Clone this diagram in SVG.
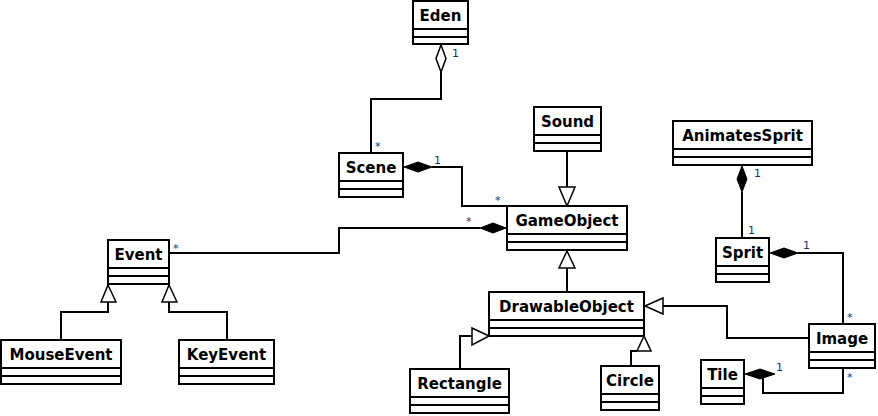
<svg xmlns="http://www.w3.org/2000/svg" width="878" height="416" viewBox="0 0 878 416">
<style>
.box{fill:#fff;stroke:#000;stroke-width:2}
.sep{stroke:#000;stroke-width:2}
.name{font-family:"DejaVu Sans",sans-serif;font-weight:bold;font-size:15px;fill:#000;text-anchor:middle}
.ln{fill:none;stroke:#000;stroke-width:2}
.hol{fill:#fff;stroke:#000;stroke-width:1.5}
.sol{fill:#000;stroke:#000;stroke-width:1}
.lbl{font-family:"DejaVu Sans",sans-serif;font-size:11px;fill:#1e2f66}
</style>
<rect width="878" height="416" fill="#fff"/>
<g id="connectors">
  <!-- Eden - Scene aggregation -->
  <path class="ln" d="M441 72 V99 H371 V153"/>
  <polygon class="hol" points="441,45 446,58.5 441,72 436,58.5"/>
  <!-- Scene - GameObject composition -->
  <path class="ln" d="M432 167 H462 V206 H507"/>
  <polygon class="sol" points="404,167 418,162 432,167 418,172"/>
  <!-- Sound -> GameObject -->
  <path class="ln" d="M567 151 V187"/>
  <polygon class="hol" points="567,206 559,187 575,187"/>
  <!-- GameObject - Event composition -->
  <path class="ln" d="M480 228 H339 V253 H169"/>
  <polygon class="sol" points="506,228 493,223 480,228 493,233"/>
  <!-- DrawableObject -> GameObject -->
  <path class="ln" d="M567 292 V268"/>
  <polygon class="hol" points="567,251 559,268 575,268"/>
  <!-- MouseEvent -> Event -->
  <path class="ln" d="M108 302 V312 H61 V340"/>
  <polygon class="hol" points="108,285 101,302 116,302"/>
  <!-- KeyEvent -> Event -->
  <path class="ln" d="M169 302 V312 H227 V340"/>
  <polygon class="hol" points="169,285 162,302 177,302"/>
  <!-- Rectangle -> DrawableObject -->
  <path class="ln" d="M460 369 V336 H472"/>
  <polygon class="hol" points="489,336 472,328 472,345"/>
  <!-- Circle -> DrawableObject -->
  <path class="ln" d="M631 366 V351 H637"/>
  <polygon class="hol" points="644,336 637,351 651,351"/>
  <!-- Image -> DrawableObject -->
  <path class="ln" d="M809 338 H727 V306 H663"/>
  <polygon class="hol" points="645,306 663,298 663,314"/>
  <!-- AnimatesSprit - Sprit composition -->
  <path class="ln" d="M742 192 V238"/>
  <polygon class="sol" points="742,166 747,179 742,192 737,179"/>
  <!-- Sprit - Image composition -->
  <path class="ln" d="M798 253 H843 V324"/>
  <polygon class="sol" points="770,253 784,248 798,253 784,258"/>
  <!-- Tile - Image composition -->
  <path class="ln" d="M763 374 V393 H843 V368"/>
  <polygon class="sol" points="745,374 760,369 775,374 760,379"/>
  <!-- labels -->
  <text class="lbl" x="452" y="57">1</text>
  <text class="lbl" x="375" y="150">*</text>
  <text class="lbl" x="434" y="164">1</text>
  <text class="lbl" x="495" y="204">*</text>
  <text class="lbl" x="466" y="225">*</text>
  <text class="lbl" x="173" y="252">*</text>
  <text class="lbl" x="754" y="177">1</text>
  <text class="lbl" x="748" y="234">1</text>
  <text class="lbl" x="803" y="249">1</text>
  <text class="lbl" x="847" y="321">*</text>
  <text class="lbl" x="776" y="371">1</text>
  <text class="lbl" x="847" y="381">*</text>
</g>
<g id="Eden">
  <rect class="box" x="413" y="1" width="55" height="43"/>
  <line class="sep" x1="413" y1="29" x2="468" y2="29"/>
  <line class="sep" x1="413" y1="37" x2="468" y2="37"/>
  <text class="name" x="440.5" y="21">Eden</text>
</g>
<g id="Scene">
  <rect class="box" x="339" y="153" width="64" height="44"/>
  <line class="sep" x1="339" y1="181" x2="403" y2="181"/>
  <line class="sep" x1="339" y1="189" x2="403" y2="189"/>
  <text class="name" x="371" y="173">Scene</text>
</g>
<g id="Sound">
  <rect class="box" x="534" y="107" width="67" height="44"/>
  <line class="sep" x1="534" y1="135" x2="601" y2="135"/>
  <line class="sep" x1="534" y1="143" x2="601" y2="143"/>
  <text class="name" x="567.5" y="127">Sound</text>
</g>
<g id="GameObject">
  <rect class="box" x="507" y="206" width="120" height="44"/>
  <line class="sep" x1="507" y1="234" x2="627" y2="234"/>
  <line class="sep" x1="507" y1="242" x2="627" y2="242"/>
  <text class="name" x="567" y="226">GameObject</text>
</g>
<g id="AnimatesSprit">
  <rect class="box" x="673" y="121" width="139" height="44"/>
  <line class="sep" x1="673" y1="149" x2="812" y2="149"/>
  <line class="sep" x1="673" y1="157" x2="812" y2="157"/>
  <text class="name" x="742.5" y="141">AnimatesSprit</text>
</g>
<g id="Sprit">
  <rect class="box" x="716" y="238" width="53" height="44"/>
  <line class="sep" x1="716" y1="266" x2="769" y2="266"/>
  <line class="sep" x1="716" y1="274" x2="769" y2="274"/>
  <text class="name" x="742.5" y="258">Sprit</text>
</g>
<g id="Event">
  <rect class="box" x="108" y="240" width="61" height="44"/>
  <line class="sep" x1="108" y1="268" x2="169" y2="268"/>
  <line class="sep" x1="108" y1="276" x2="169" y2="276"/>
  <text class="name" x="138.5" y="260">Event</text>
</g>
<g id="MouseEvent">
  <rect class="box" x="1" y="340" width="120" height="44"/>
  <line class="sep" x1="1" y1="368" x2="121" y2="368"/>
  <line class="sep" x1="1" y1="376" x2="121" y2="376"/>
  <text class="name" x="61" y="360">MouseEvent</text>
</g>
<g id="KeyEvent">
  <rect class="box" x="179" y="340" width="95" height="44"/>
  <line class="sep" x1="179" y1="368" x2="274" y2="368"/>
  <line class="sep" x1="179" y1="376" x2="274" y2="376"/>
  <text class="name" x="226.5" y="360">KeyEvent</text>
</g>
<g id="DrawableObject">
  <rect class="box" x="489" y="292" width="155" height="44"/>
  <line class="sep" x1="489" y1="320" x2="644" y2="320"/>
  <line class="sep" x1="489" y1="328" x2="644" y2="328"/>
  <text class="name" x="566.5" y="312">DrawableObject</text>
</g>
<g id="Rectangle">
  <rect class="box" x="410" y="369" width="99" height="44"/>
  <line class="sep" x1="410" y1="397" x2="509" y2="397"/>
  <line class="sep" x1="410" y1="405" x2="509" y2="405"/>
  <text class="name" x="459.5" y="389">Rectangle</text>
</g>
<g id="Circle">
  <rect class="box" x="601" y="366" width="58" height="44"/>
  <line class="sep" x1="601" y1="394" x2="659" y2="394"/>
  <line class="sep" x1="601" y1="402" x2="659" y2="402"/>
  <text class="name" x="630" y="386">Circle</text>
</g>
<g id="Image">
  <rect class="box" x="809" y="324" width="66" height="44"/>
  <line class="sep" x1="809" y1="352" x2="875" y2="352"/>
  <line class="sep" x1="809" y1="360" x2="875" y2="360"/>
  <text class="name" x="842" y="344">Image</text>
</g>
<g id="Tile">
  <rect class="box" x="701" y="360" width="43" height="44"/>
  <line class="sep" x1="701" y1="388" x2="744" y2="388"/>
  <line class="sep" x1="701" y1="396" x2="744" y2="396"/>
  <text class="name" x="722.5" y="380">Tile</text>
</g>
</svg>
